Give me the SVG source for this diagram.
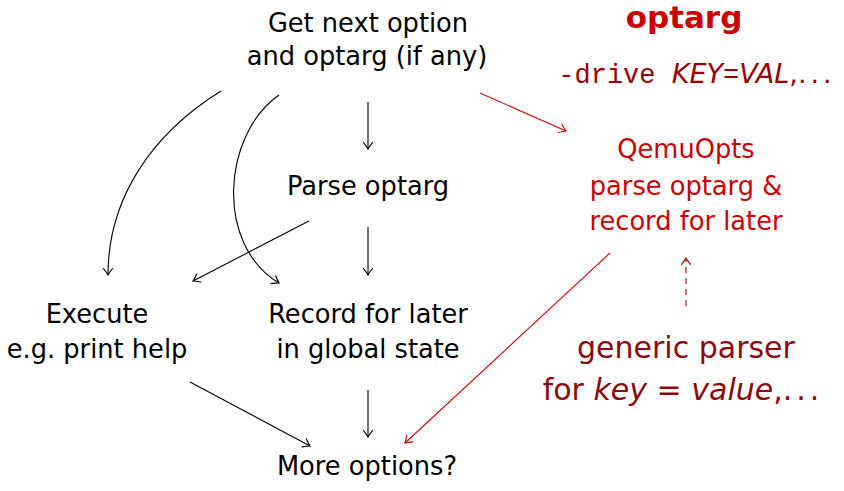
<svg xmlns="http://www.w3.org/2000/svg" width="844" height="491" viewBox="0 0 844 491">
<style>
text{font-family:"DejaVu Sans","Liberation Sans",sans-serif;text-anchor:middle}
.n{font-size:25.7px;fill:#000}
.r{font-size:25.7px;fill:#cc0000}
.g{font-size:30px;fill:#8b0a0a}
.e{fill:none;stroke:#000;stroke-width:1.1}
.er{fill:none;stroke:#d00000;stroke-width:1.1}
</style>
<defs>
<marker id="a" markerUnits="userSpaceOnUse" markerWidth="14" markerHeight="14" refX="0" refY="0" viewBox="-8 -7 10 14" orient="auto" overflow="visible">
<path d="M-6.5,-4.5 Q-2,-1 0,0 Q-2,1 -6.5,4.5" fill="none" stroke="#000" stroke-width="1.2" stroke-linecap="round"/>
</marker>
<marker id="ar" markerUnits="userSpaceOnUse" markerWidth="14" markerHeight="14" refX="0" refY="0" viewBox="-8 -7 10 14" orient="auto" overflow="visible">
<path d="M-6.5,-4.5 Q-2,-1 0,0 Q-2,1 -6.5,4.5" fill="none" stroke="#d00000" stroke-width="1.2" stroke-linecap="round"/>
</marker>
<marker id="ad" markerUnits="userSpaceOnUse" markerWidth="14" markerHeight="14" refX="0" refY="0" viewBox="-8 -7 10 14" orient="auto" overflow="visible">
<path d="M-6.5,-4.5 Q-2,-1 0,0 Q-2,1 -6.5,4.5" fill="none" stroke="#8b0a0a" stroke-width="1.2" stroke-linecap="round"/>
</marker>
</defs>
<g id="next"><text class="n" x="368" y="32">Get next option</text><text class="n" x="367" y="65">and optarg (if any)</text></g>
<g id="parse"><text class="n" x="368" y="195">Parse optarg</text></g>
<g id="execute"><text class="n" x="97" y="323">Execute</text><text class="n" x="97" y="358">e.g. print help</text></g>
<g id="record"><text class="n" x="368" y="323">Record for later</text><text class="n" x="368" y="358">in global state</text></g>
<g id="more"><text class="n" x="367" y="475">More options?</text></g>
<g id="title"><text x="684" y="28" style="font-size:31px;font-weight:bold;fill:#cc0000">optarg</text></g>
<g id="drive"><text x="697" y="83" style="font-size:27px;fill:#990000"><tspan style="font-family:'Liberation Mono',monospace">-drive </tspan><tspan style="font-style:italic">KEY</tspan><tspan style="font-family:'Liberation Mono',monospace">=</tspan><tspan style="font-style:italic">VAL</tspan>,<tspan letter-spacing="4">...</tspan></text></g>
<g id="qemuopts"><text class="r" x="686" y="158">QemuOpts</text><text class="r" x="686" y="195">parse optarg &amp;</text><text class="r" x="686" y="230">record for later</text></g>
<g id="generic"><text class="g" x="686" y="358">generic parser</text><text class="g" x="683" y="400">for <tspan style="font-style:italic">key</tspan> = <tspan style="font-style:italic">value</tspan>,<tspan letter-spacing="4">...</tspan></text></g>
<g id="connectors">
<path class="e" d="M221,91 C150,135 108,200 108,275" marker-end="url(#a)"/>
<path class="e" d="M279,95 C222,135 215,245 279,283" marker-end="url(#a)"/>
<path class="e" d="M368,102 L368,149" marker-end="url(#a)"/>
<path class="e" d="M309,221 L193,281" marker-end="url(#a)"/>
<path class="e" d="M368,227 L368,275" marker-end="url(#a)"/>
<path class="e" d="M190,382 L310,446" marker-end="url(#a)"/>
<path class="e" d="M368,390 L368,437" marker-end="url(#a)"/>
<path class="er" d="M610,253 L405,443" marker-end="url(#ar)"/>
<path class="er" d="M480,93 L566,131" marker-end="url(#ar)"/>
<path d="M686,306 L686,258" fill="none" stroke="#8b0a0a" stroke-width="1.1" stroke-dasharray="6,5" marker-end="url(#ad)"/>
</g>
</svg>
